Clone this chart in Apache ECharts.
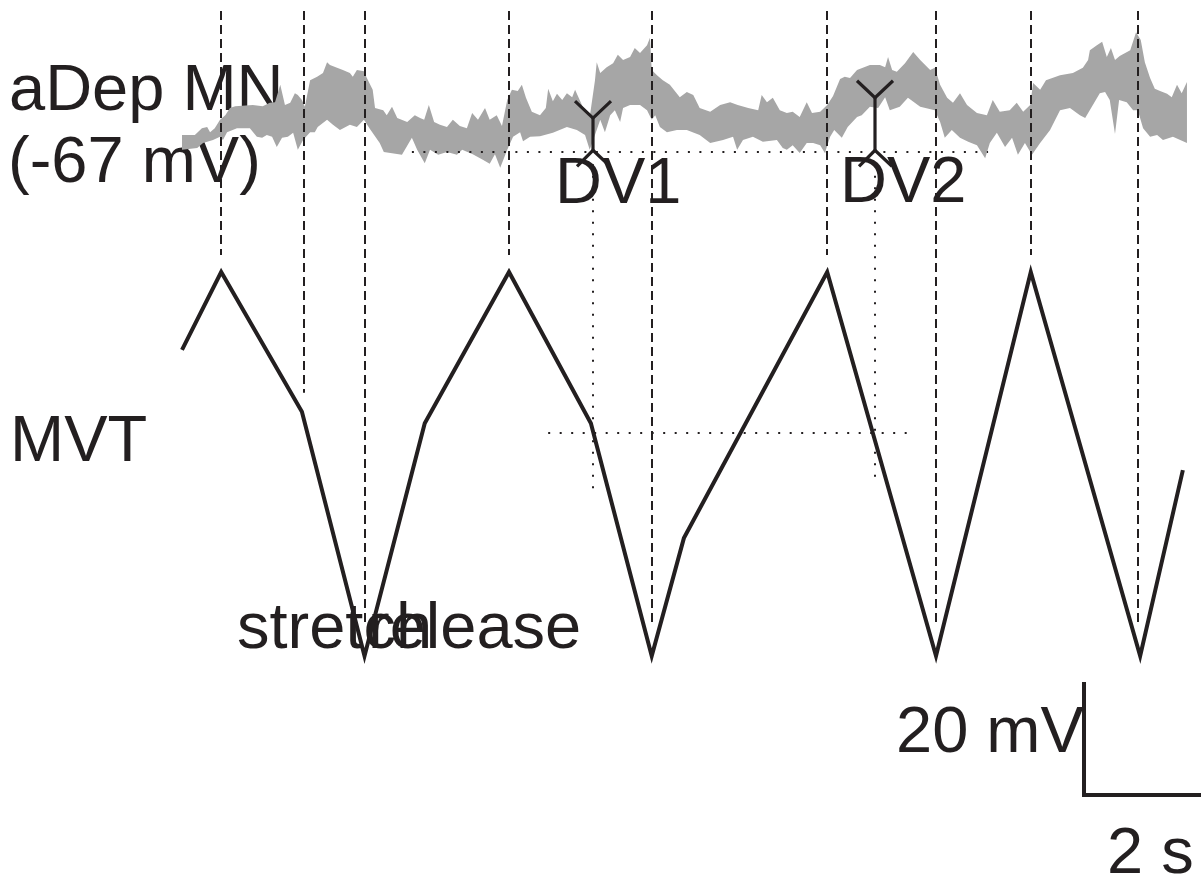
<!DOCTYPE html>
<html>
<head>
<meta charset="utf-8">
<script src="https://cdn.jsdelivr.net/npm/echarts@6/dist/echarts.min.js"></script>
<style>
  html, body { margin: 0; padding: 0; background: #ffffff; }
  #chart { width: 1201px; height: 881px; }
</style>
</head>
<body>
<div id="chart"></div>
<script>
// aDep motor neuron membrane potential: upper and lower envelope of the recorded trace [time s, mV]
const mnUpper = [
  [0.00,-64.0],[0.22,-64.0],[0.34,-62.8],[0.43,-62.6],[0.48,-63.5],[0.56,-62.8],[0.65,-61.3],[0.74,-60.5],[0.82,-59.2],[0.91,-58.9],
  [1.21,-58.7],[1.38,-58.9],[1.50,-58.3],[1.59,-58.2],[1.68,-55.1],[1.76,-58.7],[1.85,-58.3],[1.93,-56.6],[1.98,-56.9],[2.05,-57.8],
  [2.10,-59.0],[2.19,-54.3],[2.31,-53.7],[2.41,-53.0],[2.48,-51.1],[2.53,-51.6],[2.65,-52.1],[2.75,-52.5],[2.87,-53.0],[2.92,-53.7],
  [2.99,-52.5],[3.11,-52.7],[3.16,-53.9],[3.26,-56.0],[3.30,-59.2],[3.44,-59.6],[3.50,-60.5],[3.59,-59.0],[3.68,-61.0],[3.85,-61.7],
  [3.98,-60.5],[4.07,-61.0],[4.14,-61.3],[4.22,-58.7],[4.31,-61.7],[4.41,-62.2],[4.53,-62.6],[4.63,-61.3],[4.75,-62.4],[4.87,-62.8],
  [4.96,-60.1],[5.06,-61.3],[5.18,-59.2],[5.26,-61.3],[5.38,-60.5],[5.47,-62.4],[5.56,-57.8],[5.64,-56.0],[5.74,-56.2],[5.81,-55.1],
  [5.88,-57.4],[5.98,-59.9],[6.12,-60.5],[6.22,-59.2],[6.26,-55.8],[6.34,-58.0],[6.41,-56.7],[6.50,-57.8],[6.58,-56.6],[6.67,-57.3],
  [6.72,-56.0],[6.85,-59.0],[6.97,-60.8],[7.06,-54.3],[7.09,-51.1],[7.15,-53.0],[7.26,-52.0],[7.37,-51.3],[7.45,-49.8],[7.54,-50.7],
  [7.66,-50.2],[7.74,-48.6],[7.83,-49.5],[7.95,-48.1],[8.00,-46.8],[8.03,-52.5],[8.12,-53.4],[8.22,-54.3],[8.34,-55.1],[8.51,-57.3],
  [8.63,-56.4],[8.74,-56.9],[8.85,-59.2],[9.03,-59.9],[9.20,-58.7],[9.37,-58.2],[9.50,-58.7],[9.68,-59.2],[9.85,-59.6],[9.91,-56.9],
  [10.00,-58.2],[10.10,-57.4],[10.22,-59.6],[10.34,-60.1],[10.44,-59.9],[10.56,-60.8],[10.68,-58.2],[10.77,-60.1],[10.91,-59.9],[11.03,-58.7],
  [11.13,-57.1],[11.25,-54.1],[11.33,-53.7],[11.42,-53.9],[11.54,-52.5],[11.76,-51.6],[11.93,-51.6],[12.02,-52.0],[12.07,-50.2],[12.14,-52.5],
  [12.22,-52.8],[12.36,-51.3],[12.50,-49.3],[12.62,-50.7],[12.79,-52.5],[12.87,-52.1],[12.96,-55.1],[13.08,-57.4],[13.18,-58.3],[13.30,-56.6],
  [13.42,-58.7],[13.59,-60.1],[13.76,-60.5],[13.86,-57.8],[13.98,-59.9],[14.15,-59.6],[14.27,-58.3],[14.38,-59.9],[14.50,-58.7],[14.55,-54.8],
  [14.67,-56.0],[14.77,-54.3],[15.01,-53.4],[15.23,-53.0],[15.40,-52.1],[15.49,-50.7],[15.52,-49.0],[15.64,-48.1],[15.73,-47.5],[15.81,-50.2],
  [15.88,-48.6],[15.95,-50.7],[16.03,-50.0],[16.21,-49.0],[16.31,-45.8],[16.39,-47.2],[16.46,-51.1],[16.55,-53.9],[16.63,-55.8],[16.72,-56.2],
  [16.84,-56.7],[16.92,-57.3],[17.01,-55.1],[17.09,-56.6],[17.18,-54.6]
];
const mnLower = [
  [0.00,-66.6],[0.26,-66.3],[0.36,-65.4],[0.53,-64.9],[0.65,-64.3],[0.70,-64.9],[0.77,-63.5],[0.94,-62.8],[1.16,-62.8],[1.28,-64.3],
  [1.37,-64.5],[1.45,-64.0],[1.54,-64.3],[1.62,-66.1],[1.71,-64.5],[1.81,-64.3],[1.90,-63.6],[1.98,-66.6],[2.07,-64.9],[2.19,-63.5],
  [2.27,-63.5],[2.32,-62.6],[2.48,-61.3],[2.58,-62.2],[2.70,-63.1],[2.87,-62.2],[2.99,-62.6],[3.11,-61.3],[3.21,-62.9],[3.38,-65.4],
  [3.45,-67.0],[3.76,-67.5],[3.93,-64.5],[4.02,-66.6],[4.15,-69.0],[4.24,-66.6],[4.38,-67.5],[4.53,-67.0],[4.70,-67.5],[4.79,-66.6],
  [4.97,-67.4],[5.15,-68.4],[5.26,-69.1],[5.35,-67.4],[5.44,-69.8],[5.56,-66.6],[5.66,-64.3],[5.78,-63.5],[5.83,-65.1],[5.95,-64.3],
  [6.12,-64.2],[6.34,-63.6],[6.58,-62.6],[6.75,-63.1],[6.89,-64.0],[6.97,-66.6],[7.03,-64.9],[7.15,-61.3],[7.23,-63.5],[7.32,-60.5],
  [7.40,-59.6],[7.49,-61.7],[7.54,-59.2],[7.66,-58.7],[7.83,-58.7],[7.95,-59.6],[8.03,-61.3],[8.09,-60.5],[8.17,-62.6],[8.29,-63.5],
  [8.46,-63.1],[8.63,-63.1],[8.85,-64.0],[9.03,-65.4],[9.25,-64.9],[9.42,-64.3],[9.49,-66.6],[9.59,-64.9],[9.76,-64.3],[9.93,-65.2],
  [10.17,-64.9],[10.27,-66.3],[10.34,-66.6],[10.44,-65.8],[10.56,-67.2],[10.68,-65.4],[10.79,-65.4],[10.91,-65.8],[10.99,-67.2],[11.08,-64.3],
  [11.15,-63.1],[11.28,-64.5],[11.38,-62.6],[11.54,-60.8],[11.62,-60.5],[11.76,-59.0],[11.90,-59.2],[12.02,-57.3],[12.10,-59.6],[12.27,-59.0],
  [12.41,-57.4],[12.62,-59.0],[12.87,-59.6],[12.96,-61.7],[13.04,-64.5],[13.16,-63.1],[13.30,-64.5],[13.44,-65.2],[13.59,-65.8],[13.73,-68.1],
  [13.81,-65.4],[13.93,-63.6],[14.07,-66.1],[14.19,-64.5],[14.29,-67.5],[14.41,-65.4],[14.53,-67.5],[14.67,-65.4],[14.84,-63.1],[15.01,-59.6],
  [15.18,-59.2],[15.35,-60.5],[15.44,-61.0],[15.69,-56.6],[15.78,-56.4],[15.86,-57.8],[15.95,-63.8],[16.02,-57.8],[16.15,-58.2],[16.26,-59.6],
  [16.34,-59.6],[16.43,-62.8],[16.55,-64.3],[16.67,-64.0],[16.77,-64.9],[16.94,-64.3],[17.18,-65.4]
];

// Movement monitor (MVT): corner points of the ramp stimulus [time s, % of full excursion]
const mvtTrace = [
  [0.00,79.7],[0.67,100],[2.05,63.6],[3.12,0],[4.15,60.6],[5.59,100],[6.99,60.6],
  [8.03,0],[8.58,30.7],[11.03,100],[12.89,0],[14.51,100],[16.38,0],[17.11,48.4]
];

// Stretch / release transitions and the MVT level each one marks
const eventTimes  = [0.67, 2.09, 3.13, 5.59, 8.03, 11.03, 12.89, 14.51, 16.34];
const eventLevels = [100, 63.6, 0, 100, 0, 100, 0, 100, 0];

// Depolarisation markers
const dvNames     = ['DV1', 'DV2'];
const dvTimes     = [7.02, 11.84];
const dvPeaks     = [-61.0, -57.4];   // mV, top of the marker stem
const dvBase      = -66.7;            // mV, junction of the marker
const dvGuideEnds = [42.7, 44.5];     // MVT %, lower end of the dotted guide

// Reference levels
const restLevel   = -67;              // mV
const restSpan    = [3.93, 13.78];    // s
const mvtRefLevel = 58.1;             // MVT %
const mvtRefSpan  = [6.26, 12.41];    // s

// Calibration bar: 2 s, 20 mV
const scaleBar = { t: 15.42, v: -180.8, dt: 2, dv: 20 };

const INK  = '#231f20';
const BAND = '#a6a6a6';
const FONT = '"Liberation Sans", Arial, sans-serif';
const SIZE = 65;

const chart = echarts.init(document.getElementById('chart'), null, { renderer: 'canvas' });

// text placed by its left edge and alphabetic baseline
function label(text, x, baseline) {
  return {
    type: 'text', x: x, y: baseline - SIZE * 0.3465, z: 0, silent: true,
    style: { text: text, font: SIZE + 'px ' + FONT, fill: INK, align: 'left', verticalAlign: 'middle' }
  };
}

const texts = [
  label('aDep MN', 9, 115),
  label('(-67 mV)', 8, 187),
  label('MVT', 10, 466),
  label(dvNames[0], 555, 208),
  label(dvNames[1], 840, 207),
  label('stretch', 237, 653),
  label('release', 368, 653),
  label(scaleBar.dv + ' mV', 896, 757),
  label(scaleBar.dt + ' s', 1107, 878)
];

const DASH_TOP = 11;

const option = {
  animation: false,
  backgroundColor: '#ffffff',
  grid: { left: 182, right: 0, top: 0, bottom: 0 },
  xAxis: { type: 'value', min: 0, max: 17.42, show: false },
  yAxis: [
    { type: 'value', min: -196.03, max: -40.10, show: false },
    { type: 'value', min: -58.59, max: 170.83, show: false }
  ],
  graphic: texts,
  series: [
    // membrane potential band
    {
      type: 'custom', xAxisIndex: 0, yAxisIndex: 0, z: 2, silent: true, clip: false,
      data: [[0, restLevel]],
      renderItem: function (params, api) {
        const pts = mnUpper.map(p => api.coord(p))
          .concat(mnLower.slice().reverse().map(p => api.coord(p)));
        return { type: 'polygon', shape: { points: pts }, style: { fill: BAND, stroke: null } };
      }
    },
    // dashed event lines, dropping from the top to the movement trace
    {
      type: 'custom', xAxisIndex: 0, yAxisIndex: 1, z: 3, silent: true, clip: false,
      data: eventTimes.map((t, i) => [t, eventLevels[i]]),
      renderItem: function (params, api) {
        const p = api.coord([api.value(0), api.value(1)]);
        const lvl = api.value(1);
        const gap = lvl >= 99 ? 17 : (lvl <= 1 ? 34 : 19);
        const x = Math.round(p[0]);
        return {
          type: 'line',
          shape: { x1: x, y1: DASH_TOP, x2: x, y2: p[1] - gap },
          style: { stroke: INK, lineWidth: 2, lineDash: [9, 5], lineCap: 'butt' }
        };
      }
    },
    // resting level (dotted)
    {
      type: 'line', xAxisIndex: 0, yAxisIndex: 0, z: 3, silent: true, symbol: 'none',
      data: [[restSpan[0], restLevel], [restSpan[1], restLevel]],
      lineStyle: { color: INK, width: 2, type: [2, 9.5], cap: 'butt' }
    },
    // movement reference level (dotted)
    {
      type: 'line', xAxisIndex: 0, yAxisIndex: 1, z: 3, silent: true, symbol: 'none',
      data: [[mvtRefSpan[0], mvtRefLevel], [mvtRefSpan[1], mvtRefLevel]],
      lineStyle: { color: INK, width: 2, type: [2, 9.5], cap: 'butt' }
    },
    // DV markers with their dotted guides
    {
      type: 'custom', xAxisIndex: 0, yAxisIndex: 0, z: 4, silent: true, clip: false,
      data: dvTimes.map((t, i) => [t, dvPeaks[i]]),
      renderItem: function (params, api) {
        const i = params.dataIndex;
        const top = api.coord([dvTimes[i], dvPeaks[i]]);
        const base = api.coord([dvTimes[i], dvBase]);
        const x = Math.round(base[0]);
        let guideBottom = chart.convertToPixel({ yAxisIndex: 1 }, dvGuideEnds[i]);
        if (!isFinite(guideBottom)) guideBottom = base[1] + 340;
        const stroke = { stroke: INK, lineWidth: 3.2, fill: null, lineJoin: 'miter' };
        return {
          type: 'group',
          children: [
            { type: 'line', shape: { x1: x, y1: base[1] + 14, x2: x, y2: guideBottom },
              style: { stroke: INK, lineWidth: 2, lineDash: [2, 9.5] } },
            { type: 'polyline', shape: { points: [[x - 18, top[1] - 17], [x, top[1]], [x + 18, top[1] - 17]] }, style: stroke },
            { type: 'line', shape: { x1: x, y1: top[1], x2: x, y2: base[1] }, style: stroke },
            { type: 'polyline', shape: { points: [[x - 16, base[1] + 16], [x, base[1]], [x + 17, base[1] + 16]] }, style: stroke }
          ]
        };
      }
    },
    // movement trace
    {
      type: 'line', xAxisIndex: 0, yAxisIndex: 1, z: 5, silent: true, symbol: 'none', clip: false,
      data: mvtTrace,
      lineStyle: { color: INK, width: 4, join: 'miter', miterLimit: 10, cap: 'butt' }
    },
    // calibration bar
    {
      type: 'line', xAxisIndex: 0, yAxisIndex: 0, z: 5, silent: true, symbol: 'none', clip: false,
      data: [
        [scaleBar.t, scaleBar.v + scaleBar.dv],
        [scaleBar.t, scaleBar.v],
        [scaleBar.t + scaleBar.dt, scaleBar.v]
      ],
      lineStyle: { color: INK, width: 4, join: 'miter', cap: 'butt' }
    }
  ]
};

chart.setOption(option);
</script>
</body>
</html>
